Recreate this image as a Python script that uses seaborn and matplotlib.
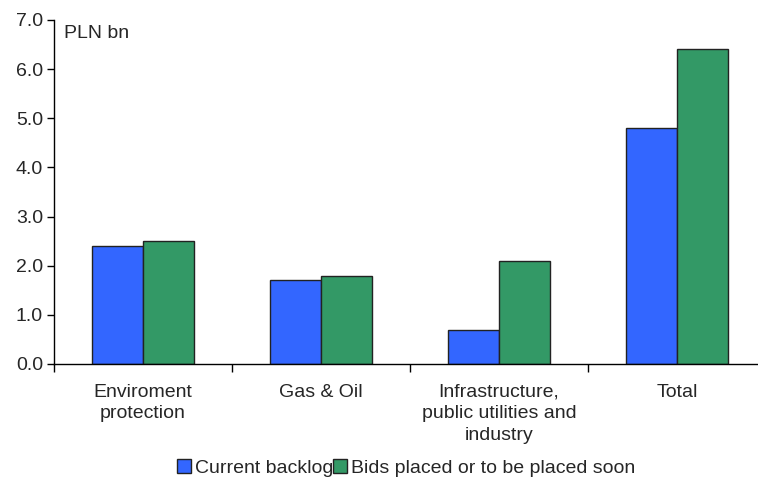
import pandas as pd
import seaborn as sns
import matplotlib.pyplot as plt

categories = ["Enviroment\nprotection", "Gas & Oil",
              "Infrastructure,\npublic utilities and\nindustry", "Total"]
series = ["Current backlog", "Bids placed or to be placed soon"]
backlog = [2.4, 1.7, 0.7, 4.8]
bids = [2.5, 1.8, 2.1, 6.4]
colors = ["#3366FF", "#339966"]

df = pd.DataFrame({
    "Category": categories * 2,
    "Series": [series[0]] * 4 + [series[1]] * 4,
    "Value": backlog + bids,
})

sns.set_style("white")
plt.rcParams["font.family"] = ["Liberation Sans", "DejaVu Sans"]
fs = 14

fig = plt.figure(figsize=(7.58, 4.79), dpi=100)
ax = fig.add_axes([54 / 758, 1 - 364 / 479, 1 - 54 / 758, 344 / 479])

sns.barplot(data=df, x="Category", y="Value", hue="Series", order=categories,
            hue_order=series, palette=colors, width=0.575, edgecolor="#222222",
            linewidth=1, saturation=1, ax=ax)

ax.set_ylim(0, 7)
ax.set_yticks([i for i in range(8)])
ax.set_yticklabels([f"{i:.1f}" for i in range(8)], fontsize=fs)
ax.set_xlim(-0.5, 3.455)
ax.set_xticks([-0.5, 0.5, 1.5, 2.5])
ax.set_xticklabels([])
ax.tick_params(axis="x", length=6, width=1, color="black", direction="out", bottom=True)
ax.tick_params(axis="y", length=5, width=1, color="black", direction="out", left=True, pad=3)
for i, lab in enumerate(categories):
    ax.text(i, -0.40, lab, ha="center", va="top", fontsize=fs, linespacing=1.35)
ax.set_xlabel("")
ax.set_ylabel("")
sns.despine(ax=ax, top=True, right=True)
for s in ["left", "bottom"]:
    ax.spines[s].set_color("black")
    ax.spines[s].set_linewidth(1)

ax.text(0.014, 0.985, "PLN bn", transform=ax.transAxes, ha="left", va="top", fontsize=fs)

handles, labels = ax.get_legend_handles_labels()
ax.legend(handles, labels, loc="center", bbox_to_anchor=(0.5, -0.303), ncol=2,
          frameon=False, fontsize=fs, handlelength=0.7, handleheight=0.7,
          handletextpad=0.2, columnspacing=0.0, borderaxespad=0)

fig.savefig("out.png", dpi=100)
